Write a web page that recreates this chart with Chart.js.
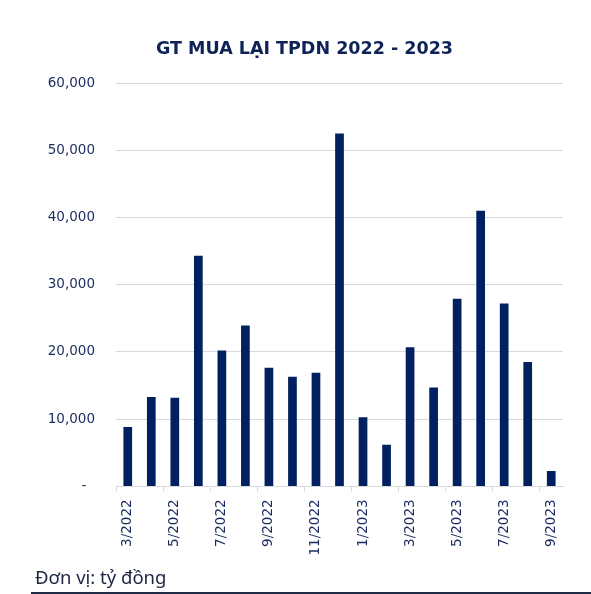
<!DOCTYPE html>
<html>
<head>
<meta charset="utf-8">
<script src="https://cdn.jsdelivr.net/npm/chart.js@4.4.0/dist/chart.umd.min.js"></script>
<style>
  html, body { margin: 0; padding: 0; background: #ffffff; }
  #wrap { position: relative; width: 591px; height: 594px; overflow: hidden; }
  #c { position: absolute; left: 0; top: 0; }
  #note {
    position: absolute; left: 31px; top: 567px; width: 560px; height: 20px;
    line-height: 20px; padding-bottom: 5px; padding-left: 4px; box-sizing: content-box;
    font-family: "Noto Sans", sans-serif; font-size: 18.5px; color: #1c2541;
    border-bottom: 2px solid #1f2a44;
  }
</style>
</head>
<body>
<div id="wrap">
  <canvas id="c" width="591" height="594"></canvas>
  <div id="note">Đơn vị: tỷ đồng</div>
</div>
<script>
const titleText = "GT MUA LẠI TPDN 2022 - 2023";
const months = ["3/2022","4/2022","5/2022","6/2022","7/2022","8/2022","9/2022","10/2022","11/2022","12/2022",
                "1/2023","2/2023","3/2023","4/2023","5/2023","6/2023","7/2023","8/2023","9/2023"];
const buybackValues = [8850, 13300, 13200, 34300, 20200, 23950, 17650, 16300, 16900, 52500,
                       10300, 6200, 20700, 14700, 27900, 41000, 27200, 18500, 2300];
const yTicks = [0, 10000, 20000, 30000, 40000, 50000, 60000];

const navy = "#002060";
const labelColor = "#1a2b5e";
const gridColor = "#d9d9d9";

new Chart(document.getElementById("c"), {
  type: "bar",
  data: {
    labels: months,
    datasets: [{
      data: buybackValues,
      backgroundColor: navy,
      borderWidth: 0,
      barPercentage: 0.37,
      categoryPercentage: 1.0
    }]
  },
  options: {
    responsive: false,
    animation: false,
    devicePixelRatio: 1,
    layout: { padding: { left: 46, right: 28, top: 0, bottom: 30.5 } },
    plugins: {
      legend: { display: false },
      tooltip: { enabled: false },
      title: {
        display: true,
        text: titleText,
        color: "#0f2257",
        font: { family: "DejaVu Sans", size: 17.5, weight: "bold" },
        padding: { top: 39, bottom: 23 }
      }
    },
    scales: {
      x: {
        offset: true,
        grid: {
          offset: true,
          drawOnChartArea: false,
          drawTicks: true,
          tickLength: 5,
          color: (ctx) => (ctx.index % 2 === 0 ? gridColor : "rgba(0,0,0,0)")
        },
        border: { display: true, color: gridColor, width: 1 },
        ticks: {
          autoSkip: false,
          minRotation: 90,
          maxRotation: 90,
          padding: 8,
          color: labelColor,
          font: { family: "DejaVu Sans", size: 13.5 },
          callback: function (value, index) {
            return index % 2 === 0 ? months[index] : "";
          }
        }
      },
      y: {
        min: yTicks[0],
        max: yTicks[yTicks.length - 1],
        afterBuildTicks: (axis) => { axis.ticks = yTicks.map(v => ({ value: v })); },
        afterFit: (axis) => { axis.width = 70; },
        grid: { color: gridColor, lineWidth: 1, drawTicks: false },
        border: { display: false },
        ticks: {
          padding: 21,
          color: labelColor,
          font: { family: "DejaVu Sans", size: 13.5 },
          callback: (v) => (v === 0 ? "-  " : v.toLocaleString("en-US"))
        }
      }
    }
  }
});
</script>
</body>
</html>
